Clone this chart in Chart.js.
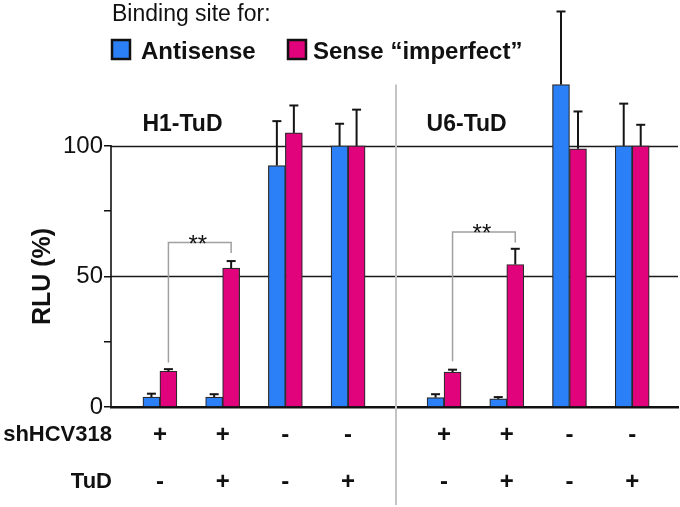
<!DOCTYPE html>
<html><head><meta charset="utf-8">
<script src="https://cdn.jsdelivr.net/npm/chart.js@4"></script>
<style>html,body{margin:0;padding:0;background:#fff}canvas{display:block}</style>
</head><body>
<canvas id="c" width="680" height="507"></canvas>
<script>
// ---- data ----
const shHCV318 = ['+','+','-','-','+','+','-','-'];
const tud      = ['-','+','-','+','-','+','-','+'];
const rowNames = ['shHCV318','TuD'];
const promoters = ['H1-TuD','U6-TuD'];
const seriesNames = ['Antisense','Sense \u201cimperfect\u201d'];
const antisense      = [3.8, 3.8, 92.5, 100, 3.6, 3.1, 123.5, 100];
const antisenseErr   = [1.3, 1.1, 17,   8.5, 1.3, 0.7, 28,    16.2];
const senseImperfect = [13.7, 53.2, 105, 100, 13.4, 54.6, 98.9, 100];
const senseErr       = [0.8, 2.7, 10.5, 13.9, 0.9, 6,   14.3,  8.1];
const yTickValues = [0,25,50,75,100];
const yTickLabels = ['0','','50','','100'];
const gridValues = [50,100];
const sigText = ['**','**'];
const sigFrom = [0,4];
const sigTo = [1,5];
const sigTop = [63,67];
const sigLeftEnd = [17,17.5];
const sigRightEnd = [59,63];

// ---- layout helpers ----
const FONT = "'Liberation Sans', Arial, sans-serif";
const pos = i => i + (i >= 4 ? 0.53 : 0);
const BLUE = '#2b80f8', PINK = '#e0037c';

const deco = {
  id: 'deco',
  beforeDatasetsDraw(chart) {
    const {ctx, chartArea: a, scales: {x, y}} = chart;
    ctx.save();
    ctx.strokeStyle = '#1a1a1a'; ctx.lineWidth = 1.3;
    gridValues.forEach(v => {
      const py = Math.round(y.getPixelForValue(v)) + 0.5;
      ctx.beginPath(); ctx.moveTo(a.left, py); ctx.lineTo(a.right, py); ctx.stroke();
    });
    const dx = Math.round((x.getPixelForValue(pos(3)) + x.getPixelForValue(pos(4))) / 2);
    ctx.strokeStyle = '#c4c4c4'; ctx.lineWidth = 2;
    ctx.beginPath(); ctx.moveTo(dx, y.getPixelForValue(123.5)); ctx.lineTo(dx, chart.height - 2); ctx.stroke();
    ctx.strokeStyle = '#111'; ctx.lineWidth = 1.6;
    ctx.beginPath(); ctx.moveTo(a.left, y.getPixelForValue(100) - 1); ctx.lineTo(a.left, y.getPixelForValue(0)); ctx.stroke();
    ctx.restore();
  },
  afterDatasetsDraw(chart) {
    const {ctx, chartArea: a, scales: {x, y}} = chart;
    ctx.save();
    // error bars
    const errs = [antisenseErr, senseErr];
    chart.data.datasets.forEach((ds, di) => {
      const meta = chart.getDatasetMeta(di);
      meta.data.forEach((bar, i) => {
        const v = ds.data[i].y, e = errs[di][i];
        const y0 = y.getPixelForValue(v), y1 = y.getPixelForValue(v + e);
        ctx.strokeStyle = '#151515'; ctx.lineWidth = 2;
        ctx.beginPath(); ctx.moveTo(bar.x, y0); ctx.lineTo(bar.x, y1); ctx.stroke();
        ctx.beginPath(); ctx.moveTo(bar.x - 4.5, y1); ctx.lineTo(bar.x + 4.5, y1); ctx.stroke();
      });
    });
    // significance brackets
    const pinkMeta = chart.getDatasetMeta(1);
    sigText.forEach((t, k) => {
      const xl = pinkMeta.data[sigFrom[k]].x, xr = pinkMeta.data[sigTo[k]].x;
      const yt = y.getPixelForValue(sigTop[k]);
      ctx.strokeStyle = '#a0a0a0'; ctx.lineWidth = 1.5;
      ctx.beginPath();
      ctx.moveTo(xl, y.getPixelForValue(sigLeftEnd[k]));
      ctx.lineTo(xl, yt); ctx.lineTo(xr, yt);
      ctx.lineTo(xr, y.getPixelForValue(sigRightEnd[k]));
      ctx.stroke();
      ctx.fillStyle = '#111'; ctx.font = `24px ${FONT}`;
      ctx.textAlign = 'center'; ctx.textBaseline = 'alphabetic';
      ctx.fillText(t, (xl + xr) / 2 - 2, yt + 9);
    });
    // promoter headers
    ctx.fillStyle = '#111'; ctx.font = `bold 23px ${FONT}`;
    ctx.textAlign = 'center'; ctx.textBaseline = 'middle';
    promoters.forEach((p, k) => {
      ctx.fillText(p, x.getPixelForValue(pos(k * 4) + 0.36), y.getPixelForValue(108.3));
    });
    // y title
    ctx.save();
    ctx.translate(43, (y.getPixelForValue(0) + y.getPixelForValue(100)) / 2);
    ctx.rotate(-Math.PI / 2);
    ctx.font = `bold 25px ${FONT}`; ctx.textAlign = 'center'; ctx.textBaseline = 'middle';
    ctx.fillText('RLU (%)', 0, 0);
    ctx.restore();
    // row names for the +/- table
    ctx.font = `bold 22px ${FONT}`; ctx.textAlign = 'right'; ctx.textBaseline = 'middle';
    rowNames.forEach((r, k) => ctx.fillText(r, 112, x.top + 28 + k * 47));
    // legend
    ctx.textAlign = 'left'; ctx.textBaseline = 'alphabetic';
    ctx.font = `23px ${FONT}`;
    ctx.fillText('Binding site for:', 112, 21);
    const items = [{x: 112, tx: 141}, {x: 288, tx: 313}];
    chart.data.datasets.forEach((ds, di) => {
      const it = items[di];
      ctx.fillStyle = ds.backgroundColor;
      ctx.fillRect(it.x, 40, 18, 19);
      ctx.strokeStyle = '#111'; ctx.lineWidth = 2.5;
      ctx.strokeRect(it.x, 40, 18, 19);
      ctx.fillStyle = '#111'; ctx.font = `bold 24px ${FONT}`;
      ctx.fillText(ds.label, it.tx, 59);
    });
    ctx.restore();
  }
};

new Chart(document.getElementById('c'), {
  type: 'bar',
  data: {
    datasets: [
      {label: seriesNames[0], data: antisense.map((v, i) => ({x: pos(i), y: v})),
       backgroundColor: BLUE, borderColor: '#2a2a2a', borderWidth: 1.2, barThickness: 17},
      {label: seriesNames[1], data: senseImperfect.map((v, i) => ({x: pos(i), y: v})),
       backgroundColor: PINK, borderColor: '#2a2a2a', borderWidth: 1.2, barThickness: 17}
    ]
  },
  options: {
    responsive: false,
    devicePixelRatio: 1,
    animation: false,
    layout: {padding: {top: 0, right: 2, left: 0, bottom: 0}},
    plugins: {legend: {display: false}, tooltip: {enabled: false}, title: {display: false}},
    scales: {
      x: {
        type: 'linear',
        offset: false,
        min: -0.78, max: 8.26,
        afterFit(s) { s.height = 100; },
        afterBuildTicks(s) { s.ticks = shHCV318.map((_, i) => ({value: pos(i)})); },
        grid: {display: false, drawTicks: false, tickLength: 0, offset: false},
        border: {display: true, color: '#111', width: 2.5},
        ticks: {
          autoSkip: false, maxRotation: 0, minRotation: 0, padding: 4.5,
          color: '#111', font: {family: FONT, size: 24, weight: 'bold', lineHeight: '47px'},
          callback: (v, i) => [shHCV318[i], tud[i]]
        }
      },
      y: {
        type: 'linear',
        min: 0, max: 150,
        afterFit(s) { s.width = 111; },
        afterBuildTicks(s) { s.ticks = yTickValues.map(v => ({value: v})); },
        grid: {display: true, drawOnChartArea: false, drawTicks: true, tickLength: 7, color: '#111', lineWidth: 1.5},
        border: {display: false},
        ticks: {
          padding: 1, color: '#111', font: {family: FONT, size: 24},
          callback: (v, i) => yTickLabels[i]
        }
      }
    }
  },
  plugins: [deco]
});
</script>
</body></html>
